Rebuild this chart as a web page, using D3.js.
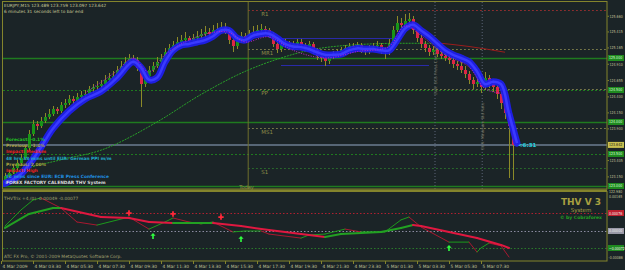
<!DOCTYPE html>
<html lang="en">
<head>
<meta charset="UTF-8">
<title>EURJPY M15 - THV System</title>
<script src="https://d3js.org/d3.v7.min.js"></script>
<style>
  body { margin: 0; background: #1b2427; }
  svg { display: block; font-family: "DejaVu Sans", sans-serif; }
</style>
</head>
<body>
<svg width="625" height="270"></svg>
<script>
// ---- price bars (M15), one entry per bar ----
const opens = [123.10,123.16,123.21,123.28,123.36,123.44,123.59,123.82,123.97,123.93,
  124.02,124.08,124.13,124.20,124.17,124.26,124.29,124.36,124.33,124.39,
  124.42,124.43,124.51,124.54,124.57,124.60,124.66,124.69,124.72,124.82,
  124.88,124.94,125.00,124.97,124.85,124.60,124.72,124.82,124.88,124.94,
  125.00,125.09,125.15,125.20,125.25,125.28,125.31,125.26,125.31,125.34,
  125.37,125.41,125.38,125.43,125.46,125.49,125.43,125.28,125.18,125.28,
  125.34,125.31,125.37,125.41,125.43,125.46,125.43,125.37,125.22,125.14,
  125.20,125.23,125.18,125.22,125.25,125.20,125.17,125.22,125.12,125.03,
  125.00,124.95,125.02,125.06,125.09,125.12,125.15,125.18,125.17,125.20,
  125.12,125.09,125.15,125.18,125.20,125.12,125.09,125.22,125.43,125.55,
  125.51,125.58,125.61,125.43,125.31,125.22,125.15,125.09,125.12,125.06,
  125.03,125.00,124.97,124.91,124.88,124.82,124.75,124.66,124.60,124.63,
  124.54,124.69,124.60,124.54,124.43,124.29,124.14,123.93];
const closes = [123.16,123.21,123.28,123.36,123.44,123.59,123.82,123.97,123.93,124.02,
  124.08,124.13,124.20,124.17,124.26,124.29,124.36,124.33,124.39,124.42,
  124.43,124.51,124.54,124.57,124.60,124.66,124.69,124.72,124.82,124.88,
  124.94,125.00,124.97,124.85,124.60,124.72,124.82,124.88,124.94,125.00,
  125.09,125.15,125.20,125.25,125.28,125.31,125.26,125.31,125.34,125.37,
  125.41,125.38,125.43,125.46,125.49,125.43,125.28,125.18,125.28,125.34,
  125.31,125.37,125.41,125.43,125.46,125.43,125.37,125.22,125.14,125.20,
  125.23,125.18,125.22,125.25,125.20,125.17,125.22,125.12,125.03,125.00,
  124.95,125.02,125.06,125.09,125.12,125.15,125.18,125.17,125.20,125.12,
  125.09,125.15,125.18,125.20,125.12,125.09,125.22,125.43,125.55,125.51,
  125.58,125.61,125.43,125.31,125.22,125.15,125.09,125.12,125.06,125.03,
  125.00,124.97,124.91,124.88,124.82,124.75,124.66,124.60,124.63,124.54,
  124.69,124.60,124.54,124.43,124.29,124.14,123.93,123.64];
const highs = [123.20,123.25,123.33,123.40,123.50,123.64,123.88,124.03,124.02,124.08,
  124.14,124.20,124.25,124.24,124.31,124.36,124.42,124.40,124.45,124.49,
  124.50,124.57,124.60,124.64,124.66,124.73,124.76,124.80,124.88,124.95,
  125.02,125.06,125.05,125.01,124.90,124.78,124.88,124.94,125.01,125.06,
  125.16,125.22,125.27,125.33,125.36,125.40,125.35,125.38,125.42,125.45,
  125.50,125.47,125.51,125.55,125.57,125.54,125.47,125.32,125.33,125.40,
  125.39,125.44,125.50,125.52,125.53,125.50,125.47,125.41,125.26,125.26,
  125.29,125.27,125.27,125.30,125.29,125.24,125.27,125.25,125.15,125.07,
  125.04,125.07,125.11,125.14,125.17,125.21,125.24,125.23,125.25,125.24,
  125.16,125.21,125.23,125.26,125.24,125.16,125.30,125.50,125.66,125.63,
  125.68,125.70,125.66,125.47,125.36,125.27,125.20,125.18,125.16,125.11,
  125.08,125.05,125.02,124.96,124.93,124.87,124.80,124.71,124.70,124.68,
  124.78,124.74,124.65,124.58,124.47,124.34,124.18,123.96];
const lows = [123.05,123.12,123.18,123.25,123.32,123.40,123.55,123.78,123.88,123.90,
  123.98,124.04,124.10,124.12,124.14,124.22,124.26,124.28,124.30,124.35,
  124.37,124.40,124.46,124.50,124.52,124.55,124.62,124.64,124.68,124.78,
  124.84,124.90,124.90,124.80,124.23,124.55,124.68,124.78,124.84,124.90,
  124.96,125.05,125.11,125.16,125.21,125.24,125.20,125.22,125.27,125.30,
  125.33,125.33,125.35,125.39,125.42,125.38,125.22,125.10,125.14,125.24,
  125.27,125.28,125.34,125.37,125.40,125.39,125.32,125.17,125.08,125.10,
  125.16,125.14,125.14,125.18,125.16,125.12,125.13,125.07,124.97,124.94,
  124.88,124.91,124.98,125.03,125.05,125.08,125.11,125.12,125.13,125.08,
  125.04,125.06,125.11,125.14,125.07,124.98,125.05,125.18,125.40,125.44,
  125.47,125.52,125.38,125.25,125.16,125.10,125.03,125.04,125.01,124.98,
  124.95,124.91,124.85,124.82,124.76,124.68,124.60,124.52,124.54,124.46,
  124.50,124.53,124.47,124.36,124.20,124.05,123.13,123.10];

// blue MA ribbon (bar index, price)
const ribbonIdx = [0,4,8,12,16,20,24,28,32,34,36,38,40,42,44,46,48,50,52,54,56,58,60,62,64,66,68,70,
  72,74,76,78,80,82,84,86,88,90,92,94,96,98,100,102,104,106,108,110,112,114,116,118,120,122,124,126,128];
const ribbonVal = [123.04,123.19,123.51,123.90,124.17,124.36,124.48,124.69,124.94,124.85,124.66,124.69,
  124.94,125.12,125.20,125.22,125.25,125.28,125.34,125.43,125.43,125.31,125.28,125.35,125.38,125.38,
  125.31,125.22,125.18,125.17,125.14,125.09,125.05,125.05,125.06,125.12,125.15,125.14,125.14,125.12,
  125.12,125.28,125.46,125.52,125.43,125.34,125.23,125.12,125.05,125.00,124.94,124.79,124.59,124.63,
  124.59,124.13,123.67];
// magenta dotted companion line
const magIdx = [20,28,32,36,40,46,52,56,60,66,72,80,88,96,100,104,110,116,120,124];
const magVal = [124.45,124.80,125.00,124.78,125.05,125.28,125.40,125.40,125.25,125.33,125.12,125.00,
  125.10,125.18,125.50,125.35,125.05,124.86,124.52,124.45];
// long moving average
const maIdx = [0,4,14,24,38,49,60,69,76,86,99,109,116,125];
const maVal = [123.13,123.24,123.41,123.56,124.00,124.43,124.79,125.00,125.12,125.20,125.23,125.23,125.18,125.09];

// levels
const roundLevels = [125.0, 124.5, 124.0, 123.5, 123.0];
const pivotNames = ["R1", "MR1", "PP", "MS1", "S1"];
const pivotPrices = [125.755, 125.14, 124.52, 123.905, 123.28];
const pivotColors = ["#a83030", "#8c8c50", "#8c8c50", "#8c8c50", "#2c7a2c"];
const boxPrices = [125.31, 124.89];
const boxFrom = [69, 69];
const boxTo = [99, 106];
const lastPrice = 123.642;
const bottomPrice = 122.980;
const todayBar = 60.8;
const newsBars = [107.5, 119.3];
const newsText = ["EUR: ECB Press Conference", "EUR: Minimum Bid Rate"];

const priceTicks = [125.660, 125.415, 125.165, 124.910, 124.655, 124.400, 124.150, 123.900, 123.405, 123.150];
const timeTicks = [-1, 7, 15, 23, 31, 39, 47, 55, 63, 71, 79, 87, 95, 103, 111, 119];
const timeLabels = ["4 Mar 2009", "4 Mar 03:30", "4 Mar 05:30", "4 Mar 07:30", "4 Mar 09:30", "4 Mar 11:30",
  "4 Mar 13:30", "4 Mar 15:30", "4 Mar 17:30", "4 Mar 19:30", "4 Mar 21:30", "4 Mar 23:30",
  "5 Mar 01:30", "5 Mar 03:30", "5 Mar 05:30", "5 Mar 07:30"];

// THVTrix indicator
const slowIdx = [0,6,12,14,24,31,36,42,49,52,59,66,74,80,84,89,94,99,102,104,111,118,124,126];
const slowVal = [0.00013,0.00072,0.00097,0.00097,0.00059,0.00055,0.00038,0.00034,0.00034,0.00034,0.00021,0.00004,
  -0.00013,-0.00025,-0.00013,-0.00008,-0.00004,0.00013,0.00025,0.00021,-0.00004,-0.00030,-0.00059,-0.00072];
const fastIdx = [0,4,7,9,14,18,23,31,36,40,42,46,49,52,57,60,64,66,74,76,80,85,89,95,99,101,104,111,116,118,119,121,124,126];
const fastVal = [0.00021,0.00089,0.00131,0.00140,0.00097,0.00038,0.00025,0.00059,0.00008,0.00038,0.00055,0.00038,
  0.00030,0.00038,-0.00004,0.00000,0.00000,-0.00013,-0.00030,-0.00017,-0.00013,0.00008,-0.00004,-0.00004,
  0.00047,0.00059,0.00017,-0.00047,-0.00047,-0.00089,-0.00072,-0.00051,-0.00063,-0.00110];
const sellIdx = [31, 42, 54];
const sellVal = [0.00076, 0.00072, 0.00059];
const buyIdx = [37, 59, 111];
const buyVal = [-0.00008, -0.00021, -0.00059];
const indLevels = [0.00076, 0, -0.00072];
const indLevelColors = ["#b02030", "#8a8aa0", "#2a7a2a"];

const newsLines = [
  ["Forecast: -0.1%", "#22c022"],
  ["Previous: -1.0%", "#a8a040"],
  ["Impact: Medium", "#e82020"],
  ["48 hrs 38 mins until EUR: German PPI m/m", "#20a8c8"],
  ["Previous: 2.00%", "#a8a040"],
  ["Impact: High", "#e82020"],
  ["52 mins since EUR: ECB Press Conference", "#2090e0"],
  ["FOREX FACTORY CALENDAR THV System", "#d8d8d8"]
];

// ---- layout ----
const svg = d3.select("svg");
const frame = "#84842c";
const mainT = 2, mainB = 189, plotL = 3, plotR = 607;
const indT = 192, indB = 261;

const x = d3.scaleLinear().domain([0, 128]).range([5, 517]);
const y = d3.scaleLinear().domain([122.953, 125.875]).range([mainB, mainT]);
const yI = d3.scaleLinear().domain([-0.00127, 0.00165]).range([indB, indT]);

svg.append("rect").attr("width", 625).attr("height", 270).attr("fill", "#1b2427");

const defs = svg.append("defs");
defs.append("clipPath").attr("id", "clipMain").append("rect")
  .attr("x", plotL).attr("y", mainT).attr("width", plotR - plotL).attr("height", mainB - mainT);
defs.append("clipPath").attr("id", "clipInd").append("rect")
  .attr("x", plotL).attr("y", indT).attr("width", plotR - plotL).attr("height", indB - indT);

const main = svg.append("g").attr("clip-path", "url(#clipMain)");

// round number levels
main.selectAll(".round").data(roundLevels).join("line")
  .attr("x1", plotL).attr("x2", plotR)
  .attr("y1", d => Math.round(y(d)) + 0.5).attr("y2", d => Math.round(y(d)) + 0.5)
  .attr("stroke", "#1f7a1f")
  .attr("stroke-width", d => d % 1 === 0 ? 1.6 : 1)
  .attr("stroke-dasharray", d => d % 1 === 0 ? null : "2,2");

// pivot levels from today's start
main.selectAll(".pivot").data(pivotPrices).join("line")
  .attr("x1", x(todayBar)).attr("x2", plotR)
  .attr("y1", d => Math.round(y(d)) + 0.5).attr("y2", d => Math.round(y(d)) + 0.5)
  .attr("stroke", (d, i) => pivotColors[i]).attr("stroke-dasharray", "1.5,2.5");
main.selectAll(".pivotLabel").data(pivotPrices).join("text")
  .attr("x", x(todayBar) + 13).attr("y", d => y(d) + 6)
  .attr("font-size", 5.5).attr("fill", "#8c8c48")
  .text((d, i) => pivotNames[i]);

// previous range box lines
main.selectAll(".box").data(boxPrices).join("line")
  .attr("x1", (d, i) => x(boxFrom[i])).attr("x2", (d, i) => x(boxTo[i]))
  .attr("y1", d => Math.round(y(d)) + 0.5).attr("y2", d => Math.round(y(d)) + 0.5)
  .attr("stroke", "#2a2aa8");

// current price line
main.append("line").attr("x1", plotL).attr("x2", plotR)
  .attr("y1", y(lastPrice)).attr("y2", y(lastPrice))
  .attr("stroke", "#6c7c92").attr("stroke-width", 1.5);

// today and news separators
main.append("line").attr("x1", x(todayBar)).attr("x2", x(todayBar))
  .attr("y1", mainT).attr("y2", mainB).attr("stroke", "#6e6e2c");
main.selectAll(".news").data(newsBars).join("line")
  .attr("x1", d => x(d)).attr("x2", d => x(d)).attr("y1", mainT).attr("y2", mainB)
  .attr("stroke", "#5c6478").attr("stroke-dasharray", "1,2");
main.selectAll(".newsText").data(newsBars).join("text")
  .attr("transform", (d, i) => `translate(${x(d) + 2},${i ? 150 : 95}) rotate(-90)`)
  .attr("font-size", 4).attr("fill", "#7a7a66")
  .text((d, i) => newsText[i]);

// long MA: green while rising, dark red after the turn
const maPts = maIdx.map((d, i) => ({ i: d, v: maVal[i] }));
const maLine = d3.line().x(d => x(d.i)).y(d => y(d.v)).curve(d3.curveMonotoneX);
main.append("path").datum(maPts.filter(d => d.i <= 109)).attr("d", maLine)
  .attr("fill", "none").attr("stroke", "#28a028").attr("stroke-width", 1).attr("stroke-dasharray", "2,1");
main.append("path").datum(maPts.filter(d => d.i >= 109)).attr("d", maLine)
  .attr("fill", "none").attr("stroke", "#9a1c1c").attr("stroke-width", 1);

// candles
const candles = main.append("g").attr("shape-rendering", "crispEdges");
candles.selectAll(".wick").data(closes).join("line")
  .attr("x1", (d, i) => x(i) + 0.5).attr("x2", (d, i) => x(i) + 0.5)
  .attr("y1", (d, i) => y(highs[i])).attr("y2", (d, i) => y(lows[i]))
  .attr("stroke", "#8c8a28");
candles.selectAll(".body").data(closes).join("rect")
  .attr("x", (d, i) => x(i) - 1).attr("width", 3)
  .attr("y", (d, i) => y(Math.max(opens[i], d)))
  .attr("height", (d, i) => Math.max(1, Math.abs(y(opens[i]) - y(d))))
  .attr("fill", (d, i) => d >= opens[i] ? "#189418" : "#dc2646");

// ribbon
const ribPts = ribbonIdx.map((d, i) => ({ i: d, v: ribbonVal[i] }));
const ribLine = d3.line().x(d => x(d.i)).y(d => y(d.v)).curve(d3.curveCatmullRom);
main.append("path").datum(ribPts).attr("d", ribLine)
  .attr("fill", "none").attr("stroke", "#1e1ef0").attr("stroke-width", 7)
  .attr("stroke-linecap", "round").attr("stroke-linejoin", "round").attr("opacity", 0.92);
main.append("path").datum(ribPts).attr("d", ribLine)
  .attr("fill", "none").attr("stroke", "#3a3aff").attr("stroke-width", 2.5);
const magPts = magIdx.map((d, i) => ({ i: d, v: magVal[i] }));
main.append("path").datum(magPts).attr("d", ribLine)
  .attr("fill", "none").attr("stroke", "#c020c8").attr("stroke-width", 1).attr("stroke-dasharray", "1,1.5");

// countdown label
svg.append("text").attr("x", x(128) + 1).attr("y", y(lastPrice) + 2.5)
  .attr("font-size", 5.5).attr("font-weight", "bold").attr("fill", "#22d0e0").text("<6:31");

// header
svg.append("text").attr("x", 4).attr("y", 7).attr("font-size", 4.3).attr("fill", "#c8c898")
  .text("EURJPY,M15  123.489 123.759 123.097 123.642");
svg.append("text").attr("x", 4).attr("y", 12.5).attr("font-size", 4.3).attr("fill", "#c8c898")
  .text("6 minutes 31 seconds left to bar end");

// news calendar block
svg.selectAll(".cal").data(newsLines).join("text")
  .attr("x", 6).attr("y", (d, i) => 141 + i * 6.2)
  .attr("font-size", 4.4).attr("font-weight", "bold")
  .attr("fill", d => d[1]).text(d => d[0]);

svg.append("text").attr("x", x(todayBar) - 9).attr("y", 188.5).attr("font-size", 5)
  .attr("fill", "#9a9a50").text("Today");

// ---- indicator window ----
const ind = svg.append("g").attr("clip-path", "url(#clipInd)");
ind.selectAll(".lvl").data(indLevels).join("line")
  .attr("x1", plotL).attr("x2", plotR)
  .attr("y1", d => Math.round(yI(d)) + 0.5).attr("y2", d => Math.round(yI(d)) + 0.5)
  .attr("stroke", (d, i) => indLevelColors[i]).attr("stroke-dasharray", "1.5,2");

function drawTrix(idx, vals, width, up, down) {
  const pts = idx.map((d, i) => ({ i: d, v: vals[i] }));
  const seg = d3.line().x(d => x(d.i)).y(d => yI(d.v));
  for (let k = 1; k < pts.length; k++) {
    ind.append("path").datum([pts[k - 1], pts[k]]).attr("d", seg)
      .attr("fill", "none").attr("stroke-width", width).attr("stroke-linecap", "round")
      .attr("stroke", pts[k].v >= pts[k - 1].v ? up : down);
  }
}
drawTrix(fastIdx, fastVal, 1, "#1c9a1c", "#a81830");
drawTrix(slowIdx, slowVal, 2, "#22a022", "#e01840");

ind.selectAll(".sell").data(sellIdx).join("path")
  .attr("transform", (d, i) => `translate(${x(d)},${yI(sellVal[i])})`)
  .attr("d", d3.symbol(d3.symbolCross).size(16)).attr("fill", "#ff2838");
ind.selectAll(".buy").data(buyIdx).join("path")
  .attr("transform", (d, i) => `translate(${x(d)},${yI(buyVal[i]) + 3})`)
  .attr("d", "M0,-3L2.6,-0.2L0.8,-0.2L0.8,3L-0.8,3L-0.8,-0.2L-2.6,-0.2Z").attr("fill", "#30ff40");

svg.append("text").attr("x", 4).attr("y", 200).attr("font-size", 4.4).attr("fill", "#a0a070")
  .text("THVTrix +4,(0) -0.00049 -0.00077");
svg.append("text").attr("x", 4).attr("y", 258).attr("font-size", 4.4).attr("fill", "#a0a070")
  .text("ATC FX Pro, \u00a9 2001-2009 MetaQuotes Software Corp.");

svg.append("text").attr("x", 581).attr("y", 204.5).attr("text-anchor", "middle")
  .attr("font-size", 9).attr("font-weight", "bold").attr("fill", "#a8a040").text("THV V 3");
svg.append("text").attr("x", 581).attr("y", 212).attr("text-anchor", "middle")
  .attr("font-size", 5.5).attr("fill", "#a8a040").text("System");
svg.append("text").attr("x", 581).attr("y", 219).attr("text-anchor", "middle")
  .attr("font-size", 4.5).attr("font-weight", "bold").attr("fill", "#22a022").text("\u00a9 by Cobraforex");

// ---- frames ----
svg.append("rect").attr("x", 2.5).attr("y", 1.5).attr("width", plotR - 2.5).attr("height", mainB - 1.5)
  .attr("fill", "none").attr("stroke", frame);
svg.append("line").attr("x1", 2).attr("x2", plotR).attr("y1", 190.5).attr("y2", 190.5)
  .attr("stroke", frame).attr("stroke-width", 2);
svg.append("rect").attr("x", 2.5).attr("y", indT - 0.5).attr("width", plotR - 2.5).attr("height", indB - indT + 0.5)
  .attr("fill", "none").attr("stroke", frame);

// ---- right price axis (labels squeezed to fit the narrow margin) ----
const axFmt = d3.format(".3f");
const yAxis = svg.append("g").attr("transform", `translate(${plotR + 0.5},0)`)
  .call(d3.axisRight(y).tickValues(priceTicks).tickFormat(axFmt).tickSize(1.5).tickPadding(0));
yAxis.select(".domain").remove();
yAxis.selectAll("line").attr("stroke", frame);
yAxis.selectAll("text").attr("x", null).attr("transform", "translate(2,0) scale(0.8,1)")
  .attr("font-size", 4).attr("fill", "#c0c098").attr("font-family", "DejaVu Sans");

function squeezedLabel(xx, yy, label, fg) {
  svg.append("text").attr("transform", `translate(${xx},${yy}) scale(0.8,1)`)
    .attr("font-size", 4).attr("fill", fg).text(label);
}
function priceBox(yy, label, bg, fg) {
  svg.append("rect").attr("x", plotR + 1).attr("y", yy - 3).attr("width", 16).attr("height", 6).attr("fill", bg);
  squeezedLabel(plotR + 2, yy + 1.5, label, fg);
}
roundLevels.forEach(p => priceBox(y(p), axFmt(p), "#1f8a1f", "#d8ffd8"));
priceBox(y(lastPrice), axFmt(lastPrice), "#c8c050", "#202010");
// chart minimum, printed just under the main window edge
squeezedLabel(plotR + 2, y(bottomPrice) + 5.6, axFmt(bottomPrice), "#c0c098");

// indicator scale labels
const indFmt = d3.format(".5f");
squeezedLabel(plotR + 2, 197.8, "0.00165", "#c0c098");
squeezedLabel(plotR + 1.5, 259, "-0.00086", "#c0c098");
const boxCols = ["#c02030", "#9a9aa8", "#1f8a1f"];
indLevels.forEach((v, i) => priceBox(yI(v), indFmt(v), boxCols[i], "#f0f0f0"));

// ---- time axis ----
const xAxis = svg.append("g").attr("transform", `translate(0,${indB})`)
  .call(d3.axisBottom(x).tickValues(timeTicks).tickFormat((d, i) => timeLabels[i]).tickSize(3).tickPadding(1));
xAxis.select(".domain").remove();
xAxis.selectAll("line").attr("stroke", frame);
xAxis.selectAll("text").attr("text-anchor", "start").attr("dx", 1).attr("font-size", 4.4)
  .attr("fill", "#c0c098").attr("font-family", "DejaVu Sans");
</script>
</body>
</html>
